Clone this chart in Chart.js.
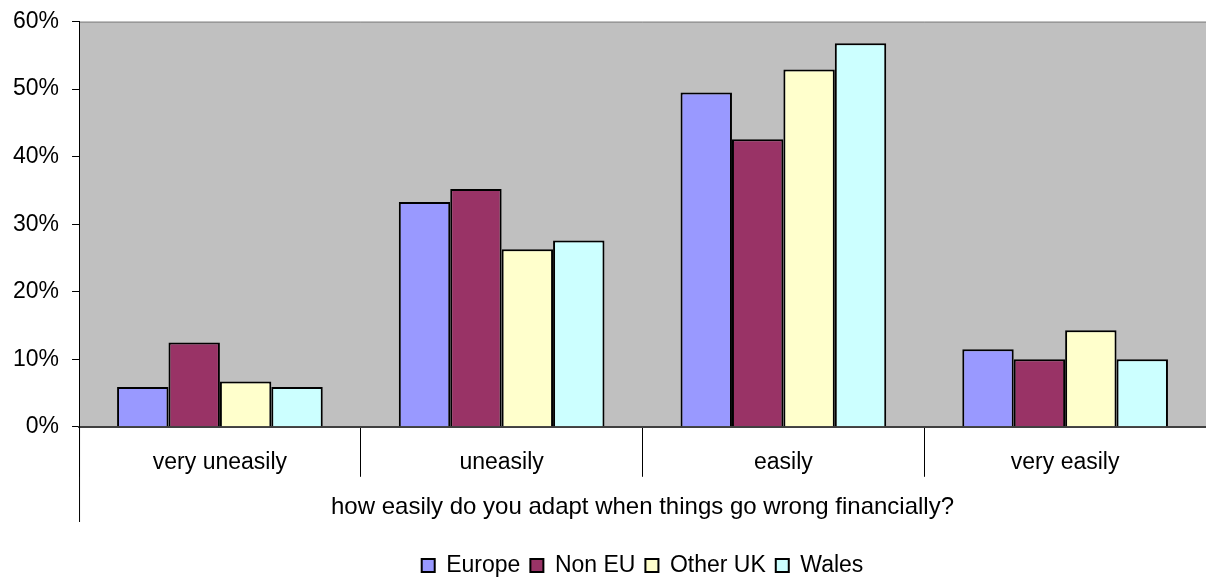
<!DOCTYPE html>
<html>
<head>
<meta charset="utf-8">
<script src="https://cdn.jsdelivr.net/npm/chart.js@4/dist/chart.umd.min.js"></script>
<style>
    html, body { margin: 0; padding: 0; background: #fff; }
    #wrap { width: 1206px; height: 578px; }
</style>
</head>
<body>
<div id="wrap"><canvas id="adapt-chart"></canvas></div>
<script>
const categories = ['very uneasily', 'uneasily', 'easily', 'very easily'];
const europe = [5.9, 33.3, 49.5, 11.5];
const nonEU = [12.5, 35.2, 42.6, 10.0];
const otherUK = [6.7, 26.3, 52.9, 14.3];
const wales = [5.9, 27.6, 56.8, 10.0];
const axisTitle = 'how easily do you adapt when things go wrong financially?';

const family = "'Liberation Sans', Arial, sans-serif";
const font = { family: family, size: 23 };
const titleGapBelow = 22;

// grey plot background, plus the long left line that runs down past the axis title
const plotFrame = {
    id: 'plotFrame',
    beforeDraw (chart) {
        const { ctx, chartArea } = chart;
        ctx.save();
        ctx.fillStyle = '#c0c0c0';
        ctx.fillRect(chartArea.left, chartArea.top, chartArea.right - chartArea.left, chartArea.bottom - chartArea.top);
        ctx.strokeStyle = '#808080';
        ctx.lineWidth = 1;
        ctx.beginPath();
        ctx.moveTo(chartArea.left, chartArea.top + 0.5);
        ctx.lineTo(chartArea.right, chartArea.top + 0.5);
        ctx.stroke();
        ctx.restore();
    },
    afterDraw (chart) {
        const { ctx } = chart;
        const x = chart.scales.x;
        ctx.save();
        ctx.strokeStyle = '#000';
        ctx.lineWidth = 1;
        ctx.beginPath();
        ctx.moveTo(x.left + 0.5, x.top);
        ctx.lineTo(x.left + 0.5, x.bottom - titleGapBelow);
        ctx.stroke();
        ctx.restore();
    },
    afterLayout (chart) {
        // centre the legend under the plot area, as in the original
        chart.legend.left = chart.chartArea.left;
        chart.legend.right = chart.chartArea.right;
    }
};

function series (label, data, color) {
    return {
        label: label,
        data: data,
        backgroundColor: color,
        borderColor: '#000',
        borderWidth: 2,
        borderSkipped: 'bottom'
    };
}

new Chart(
    document.getElementById('adapt-chart'),
    {
        type: 'bar',
        plugins: [plotFrame],
        data: {
            labels: categories,
            datasets: [
                series('Europe', europe, '#9999ff'),
                series('Non EU', nonEU, '#993366'),
                series('Other UK', otherUK, '#ffffcc'),
                series('Wales', wales, '#ccffff')
            ]
        },
        options: {
            responsive: true,
            maintainAspectRatio: false,
            animation: false,
            layout: {
                padding: { top: -4, right: 0, left: 0, bottom: -9 }
            },
            datasets: {
                bar: {
                    categoryPercentage: 0.73,
                    barPercentage: 1
                }
            },
            plugins: {
                legend: {
                    position: 'bottom',
                    labels: {
                        color: '#000',
                        font: font,
                        boxWidth: 13,
                        boxHeight: 13,
                        padding: 10
                    }
                },
                tooltip: { enabled: false }
            },
            scales: {
                x: {
                    grid: {
                        offset: true,
                        drawOnChartArea: false,
                        drawTicks: true,
                        tickLength: 50,
                        color: '#000',
                        lineWidth: 1
                    },
                    border: { color: '#404040', width: 2 },
                    ticks: {
                        color: '#000',
                        font: font,
                        padding: -27.8,
                        maxRotation: 0
                    },
                    title: {
                        display: true,
                        text: axisTitle,
                        color: '#000',
                        font: { family: family, size: 24 },
                        padding: { top: 44.4, bottom: titleGapBelow }
                    }
                },
                y: {
                    min: 0,
                    max: 60,
                    grid: {
                        drawOnChartArea: false,
                        drawTicks: true,
                        tickLength: 7,
                        color: '#000'
                    },
                    border: { color: '#000', width: 1 },
                    ticks: {
                        stepSize: 10,
                        color: '#000',
                        font: { family: family, size: 23, lineHeight: 0.75 },
                        padding: 13,
                        callback: (value) => `${value}%`
                    }
                }
            }
        }
    }
);
</script>
</body>
</html>
